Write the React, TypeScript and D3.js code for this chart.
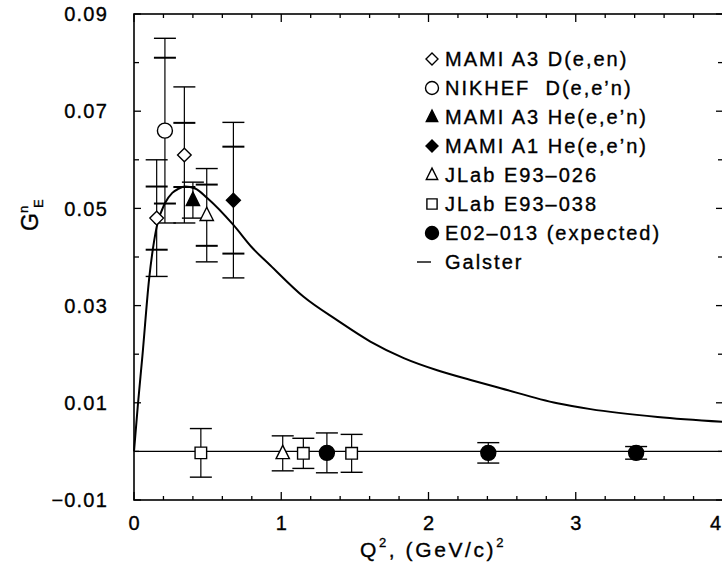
import React from 'react';
import * as d3 from 'd3';

// values
const galsterQ2 = [0, 0.027, 0.057, 0.102, 0.154, 0.211, 0.26, 0.30, 0.347, 0.415, 0.499, 0.675, 0.80, 0.925, 1.152, 1.379, 1.605, 1.832, 2.059, 2.286, 2.49, 2.875, 3.1, 3.556, 4.0];
const galsterGE = [0, 0.0098, 0.0196, 0.0353, 0.0462, 0.0511, 0.0532, 0.0540, 0.0545, 0.0541, 0.0521, 0.0466, 0.0420, 0.0383, 0.0318, 0.0270, 0.0226, 0.0192, 0.0167, 0.0147, 0.0130, 0.0099, 0.0087, 0.0071, 0.0061];

const mamiA3D_q = [0.154, 0.342];
const mamiA3D_v = [0.048, 0.061];
const mamiA3D_stat = [0.0065, 0.0066];
const mamiA3D_tot = [0.012, 0.014];

const nikhef_q = [0.21];
const nikhef_v = [0.066];
const nikhef_stat = [0.015];
const nikhef_tot = [0.019];

const mamiA3He_q = [0.40];
const mamiA3He_v = [0.0517];
const mamiA3He_stat = [0.0037];
const mamiA3He_tot = [0.0037];

const mamiA1He_q = [0.675];
const mamiA1He_v = [0.0517];
const mamiA1He_stat = [0.011];
const mamiA1He_tot = [0.016];

const jlab026_q = [0.494, 1.01];
const jlab026_v = [0.0486, -0.0004];
const jlab026_stat = [0.0063, 0.0036];
const jlab026_tot = [0.0096, 0.0036];

const jlab038_q = [0.454, 1.15, 1.478];
const jlab038_v = [-0.0003, -0.0004, -0.0004];
const jlab038_err = [0.005, 0.0031, 0.0039];

const e02013_q = [1.31, 2.406, 3.41];
const e02013_v = [-0.0003, -0.0003, -0.0003];
const e02013_err = [0.0041, 0.0021, 0.0013];

const xTickLabels = [0, 1, 2, 3, 4];
const yTickLabels = [-0.01, 0.01, 0.03, 0.05, 0.07, 0.09];

const legendLabels = [
  'MAMI A3 D(e,en)',
  'NIKHEF\u00a0\u00a0D(e,e\u2019n)',
  'MAMI A3 He(e,e\u2019n)',
  'MAMI A1 He(e,e\u2019n)',
  'JLab E93\u2013026',
  'JLab E93\u2013038',
  'E02\u2013013 (expected)',
  'Galster',
];
const legendShapes = ['diamond', 'circle', 'triangle', 'diamond', 'triangle', 'square', 'circle', 'dash'];
const legendFilled = [false, false, true, true, false, false, true, false];

const FONT = '"Liberation Sans", Arial, Helvetica, sans-serif';

function markerPath(shape: string, s: number) {
  if (shape === 'diamond') return `M0,${-s}L${s},0L0,${s}L${-s},0Z`;
  if (shape === 'triangle') {
    const w = s * 1.9, h = s * 1.9;
    return `M0,${-h * 0.6}L${w / 2},${h * 0.4}L${-w / 2},${h * 0.4}Z`;
  }
  if (shape === 'square') return `M${-s * 0.85},${-s * 0.85}h${s * 1.7}v${s * 1.7}h${-s * 1.7}Z`;
  return '';
}

function Marker({ shape, filled, cx, cy, s }: any) {
  const fill = filled ? '#000' : '#fff';
  if (shape === 'circle')
    return <circle cx={cx} cy={cy} r={s} fill={fill} stroke="#000" strokeWidth={1.4} />;
  if (shape === 'dash')
    return <line x1={cx - 7} x2={cx + 7} y1={cy} y2={cy} stroke="#000" strokeWidth={1.4} />;
  return (
    <path d={markerPath(shape, s)} transform={`translate(${cx},${cy})`}
      fill={fill} stroke="#000" strokeWidth={1.4} strokeLinejoin="miter" />
  );
}

export default function App() {
  const W = 722, H = 567;
  const x = d3.scaleLinear().domain([0, 4]).range([134, 723]);
  const y = d3.scaleLinear().domain([-0.01, 0.09]).range([500, 14]);

  const galster = galsterQ2.map((q, i) => [q, galsterGE[i]] as [number, number]);
  const line = d3.line<[number, number]>()
    .x(d => x(d[0]))
    .y(d => y(d[1]))
    .curve(d3.curveMonotoneX);

  const sets = [
    { q: mamiA3D_q, v: mamiA3D_v, stat: mamiA3D_stat, tot: mamiA3D_tot, shape: 'diamond', filled: false, s: 6.8 },
    { q: nikhef_q, v: nikhef_v, stat: nikhef_stat, tot: nikhef_tot, shape: 'circle', filled: false, s: 7.5 },
    { q: mamiA3He_q, v: mamiA3He_v, stat: mamiA3He_stat, tot: mamiA3He_tot, shape: 'triangle', filled: true, s: 7 },
    { q: mamiA1He_q, v: mamiA1He_v, stat: mamiA1He_stat, tot: mamiA1He_tot, shape: 'diamond', filled: true, s: 7 },
    { q: jlab026_q, v: jlab026_v, stat: jlab026_stat, tot: jlab026_tot, shape: 'triangle', filled: false, s: 7 },
    { q: jlab038_q, v: jlab038_v, stat: jlab038_err, tot: jlab038_err, shape: 'square', filled: false, s: 6.8 },
    { q: e02013_q, v: e02013_v, stat: e02013_err, tot: e02013_err, shape: 'circle', filled: true, s: 7.5 },
  ];

  const xMinor = d3.range(0, 21).map(i => i / 5);
  const yMinor = d3.range(-1, 10).map(i => i / 100);
  const capW = 11;

  return (
    <svg width={W} height={H} style={{ position: 'absolute', left: 0, top: 0 }} fontFamily={FONT}>
      <rect width={W} height={H} fill="#fff" />

      {/* frame */}
      <rect x={x(0)} y={y(0.09)} width={x(4) - x(0)} height={y(-0.01) - y(0.09)}
        fill="none" stroke="#000" strokeWidth={1.6} />

      {/* x ticks bottom and top */}
      {xMinor.map((t, i) => {
        const len = i % 5 === 0 ? 8 : 4;
        return (
          <g key={'xt' + i} stroke="#000" strokeWidth={1.3}>
            <line x1={x(t)} x2={x(t)} y1={y(-0.01)} y2={y(-0.01) - len} />
            <line x1={x(t)} x2={x(t)} y1={y(0.09)} y2={y(0.09) + len} />
          </g>
        );
      })}
      {/* y ticks left and right */}
      {yMinor.map((t, i) => {
        const len = i % 2 === 0 ? 7 : 5;
        return (
          <g key={'yt' + i} stroke="#000" strokeWidth={1.3}>
            <line x1={x(0)} x2={x(0) + len} y1={y(t)} y2={y(t)} />
            <line x1={x(4)} x2={x(4) - len} y1={y(t)} y2={y(t)} />
          </g>
        );
      })}

      <g stroke="#000" strokeWidth={0.35}>
        {/* tick labels */}
        {xTickLabels.map(t => (
          <text key={'xl' + t} x={t === 4 ? 721 : x(t)} y={530}
            textAnchor={t === 4 ? 'end' : 'middle'} fontSize={20}>{t}</text>
        ))}
        {yTickLabels.map(t => (
          <text key={'yl' + t} x={108} y={y(t)} dy="0.36em" textAnchor="end" fontSize={20} letterSpacing={1.2}>
            {d3.format('.2f')(t)}
          </text>
        ))}

        {/* axis titles */}
        <text x={433} y={557} textAnchor="middle" fontSize={21} letterSpacing={2.6}>
          Q<tspan dy={-10} fontSize={13}>2</tspan><tspan dy={10}>, (GeV/c)</tspan><tspan dy={-10} fontSize={13}>2</tspan>
        </text>
        <text transform={`translate(38,231) rotate(-90)`} fontSize={23} textAnchor="start">
          G<tspan dy={-10} fontSize={13}>n</tspan><tspan dy={15} dx={-2} fontSize={13}>E</tspan>
        </text>

        {/* legend text */}
        {legendLabels.map((lab, i) => (
          <text key={'lt' + i} x={445} y={59 + i * 29} dy="0.36em" fontSize={20} letterSpacing={2}>{lab}</text>
        ))}
      </g>

      {/* zero line */}
      <line x1={x(0)} x2={x(4)} y1={y(0)} y2={y(0)} stroke="#000" strokeWidth={1.1} />

      {/* Galster curve */}
      <path d={line(galster) || ''} fill="none" stroke="#000" strokeWidth={2} />

      {/* error bars */}
      {sets.map((s, si) => s.q.map((q, i) => {
        const cx = x(q);
        const v = s.v[i];
        return (
          <g key={`e${si}-${i}`} stroke="#000">
            <line x1={cx} x2={cx} y1={y(v - s.tot[i])} y2={y(v + s.tot[i])} strokeWidth={1.2} />
            <line x1={cx - capW} x2={cx + capW} y1={y(v + s.tot[i])} y2={y(v + s.tot[i])} strokeWidth={1.4} />
            <line x1={cx - capW} x2={cx + capW} y1={y(v - s.tot[i])} y2={y(v - s.tot[i])} strokeWidth={1.4} />
            {s.stat[i] !== s.tot[i] && (
              <>
                <line x1={cx - capW} x2={cx + capW} y1={y(v + s.stat[i])} y2={y(v + s.stat[i])} strokeWidth={2} />
                <line x1={cx - capW} x2={cx + capW} y1={y(v - s.stat[i])} y2={y(v - s.stat[i])} strokeWidth={2} />
              </>
            )}
          </g>
        );
      }))}

      {/* markers */}
      {sets.map((s, si) => s.q.map((q, i) => (
        <Marker key={`m${si}-${i}`} shape={s.shape} filled={s.filled} cx={x(q)} cy={y(s.v[i])} s={s.s} />
      )))}

      {/* legend markers */}
      {legendShapes.map((shape, i) => (
        <Marker key={'lm' + i} shape={shape} filled={legendFilled[i]} cx={shape === 'dash' ? 424 : 432}
          cy={59 + i * 29} s={shape === 'circle' ? 6.5 : 6} />
      ))}
    </svg>
  );
}
